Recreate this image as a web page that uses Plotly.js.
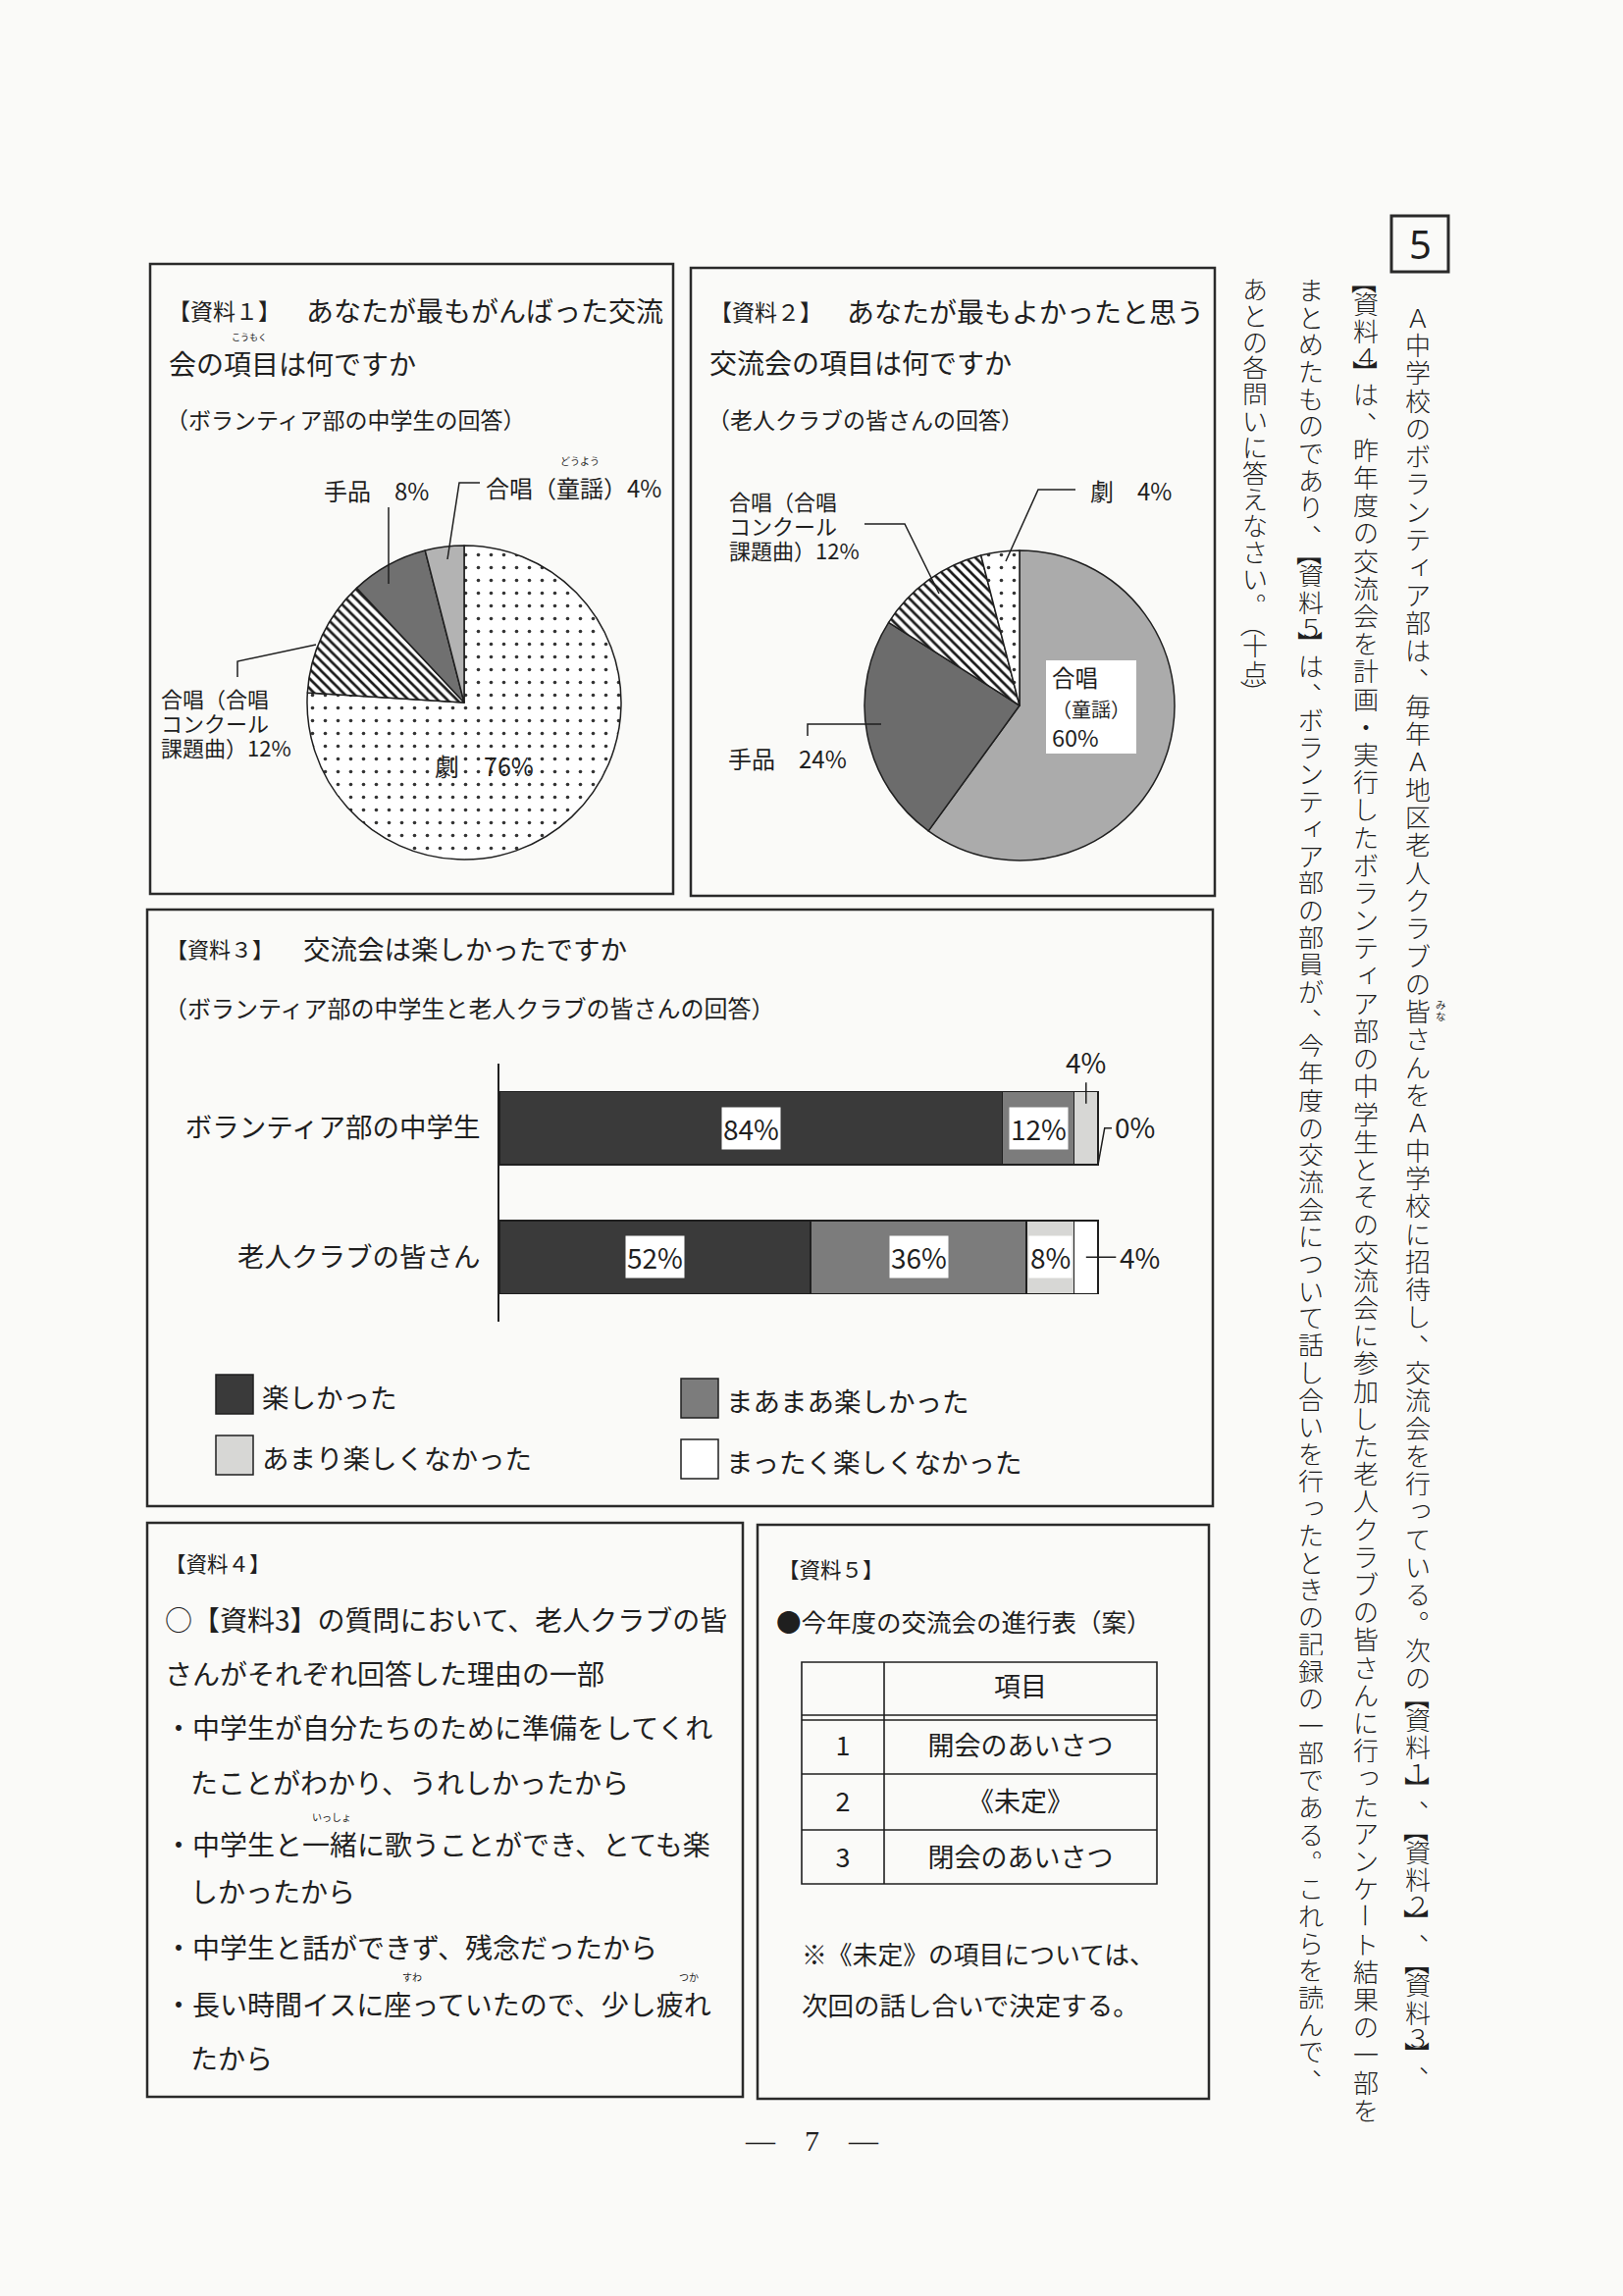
<!DOCTYPE html>
<html><head><meta charset="utf-8">
<script src="https://cdn.plot.ly/plotly-3.0.1.min.js"></script>
<style>html,body{margin:0;padding:0;background:#fafaf8}</style>
</head><body><div id="chart" style="width:1654px;height:2340px"></div>
<script>
// ---------------- data ----------------
const pie1Labels = ['劇', '合唱（合唱コンクール課題曲）', '手品', '合唱（童謡）'];
const pie1Values = [76, 12, 8, 4];
const pie2Labels = ['合唱（童謡）', '手品', '合唱（合唱コンクール課題曲）', '劇'];
const pie2Values = [60, 24, 12, 4];
const barGroups = ['ボランティア部の中学生', '老人クラブの皆さん'];
const barSeries = ['楽しかった', 'まあまあ楽しかった', 'あまり楽しくなかった', 'まったく楽しくなかった'];
const barValues = [[84, 52], [12, 36], [4, 8], [0, 4]];
const tableHeader = ['', '項目'];
const tableNumbers = ['1', '2', '3'];
const tableItems = ['開会のあいさつ', '《未定》', '閉会のあいさつ'];
const verticalCols = [
  'Ａ中学校のボランティア部は、毎年Ａ地区老人クラブの皆さんをＡ中学校に招待し、交流会を行っている。次の【資料１】、【資料２】、【資料３】、',
  '【資料４】は、昨年度の交流会を計画・実行したボランティア部の中学生とその交流会に参加した老人クラブの皆さんに行ったアンケート結果の一部を',
  'まとめたものであり、【資料５】は、ボランティア部の部員が、今年度の交流会について話し合いを行ったときの記録の一部である。これらを読んで、',
  'あとの各問いに答えなさい。（十点）'
];
const reasonLines = [
  '○【資料3】の質問において、老人クラブの皆',
  'さんがそれぞれ回答した理由の一部',
  '・中学生が自分たちのために準備をしてくれ',
  'たことがわかり、うれしかったから',
  '・中学生と一緒に歌うことができ、とても楽',
  'しかったから',
  '・中学生と話ができず、残念だったから',
  '・長い時間イスに座っていたので、少し疲れ',
  'たから'
];

// ---------------- helpers ----------------
const W = 1654, H = 2340;
const FONT = '"Noto Sans CJK JP", "Noto Sans", sans-serif';
const INK = '#1f1f1f';
const X = p => p / W, Y = p => 1 - p / H;
const ann = [], shapes = [];
function T(text, x, y, size, opts) {
  ann.push(Object.assign({xref: 'paper', yref: 'paper', x: X(x), y: Y(y), text: text, showarrow: false,
    xanchor: 'left', yanchor: 'middle', borderpad: 0, font: {family: FONT, size: size, color: INK}}, opts || {}));
}
function ML(lines, x, yCenter, spacing, size, opts) {
  const txt = lines.map(l => '<span style="font-size:' + size + 'px">' + l + '</span>').join('<br>');
  T(txt, x, yCenter, spacing / 1.3, Object.assign({align: 'left'}, opts || {}));
}
function box(x0, y0, x1, y1, w) {
  shapes.push({type: 'rect', xref: 'paper', yref: 'paper', x0: X(x0), x1: X(x1), y0: Y(y0), y1: Y(y1),
    line: {color: '#2a2a2a', width: w || 2.5}, fillcolor: 'rgba(0,0,0,0)', layer: 'below'});
}
function poly(pts, w) {
  let d = 'M' + pts.map(p => X(p[0]) + ',' + Y(p[1])).join(' L');
  shapes.push({type: 'path', xref: 'paper', yref: 'paper', path: d, line: {color: INK, width: w || 1.5}});
}

// ---------------- frames ----------------
box(153, 269, 686, 911);
box(704, 273, 1238, 913);
box(150, 927, 1236, 1535);
box(150, 1552, 757, 2137);
box(772, 1554, 1232, 2139);
box(1418, 220, 1476, 277, 3);
T('5', 1447, 249, 40, {xanchor: 'center', font: {family: '"Noto Sans", sans-serif', size: 40, color: INK}});
T('—　7　—', 827, 2181, 28, {xanchor: 'center', font: {family: '"Liberation Serif", serif', size: 30, color: INK}});

// ---------------- 資料1 ----------------
T('【資料１】', 170, 316, 23);
T('あなたが最もがんばった交流', 311, 316, 28);
T('会の項目は何ですか', 171, 370, 28);
T('こうもく', 254, 343, 9, {xanchor: 'center'});
T('（ボランティア部の中学生の回答）', 168, 427, 23);
T(pie1Labels[2] + '　' + pie1Values[2] + '%', 329, 499, 24);
T(pie1Labels[3] + pie1Values[3] + '%', 494, 496, 24);
T('どうよう', 591, 470, 10, {xanchor: 'center'});
ML([pie1Labels[1].slice(0, 5), pie1Labels[1].slice(5, 10), pie1Labels[1].slice(10) + pie1Values[1] + '%'], 163, 736, 25, 22);
T(pie1Labels[0] + '　' + pie1Values[0] + '%', 442, 780, 25);
poly([[396, 517], [396, 595]]);
poly([[489, 492], [468, 492], [456, 570]]);
poly([[242, 690], [242, 674], [322, 657]]);

// ---------------- 資料2 ----------------
T('【資料２】', 722, 317, 23);
T('あなたが最もよかったと思う', 862, 317, 28);
T('交流会の項目は何ですか', 722, 369, 28);
T('（老人クラブの皆さんの回答）', 720, 427, 23);
T(pie2Labels[3] + '　' + pie2Values[3] + '%', 1110, 499, 24);
ML([pie2Labels[2].slice(0, 5), pie2Labels[2].slice(5, 10), pie2Labels[2].slice(10) + pie2Values[2] + '%'], 742, 535, 25, 22);
T(pie2Labels[1] + '　' + pie2Values[1] + '%', 741, 773, 24);
poly([[1096, 499], [1058, 499], [1025, 572]]);
poly([[881, 534], [922, 534], [957, 605]]);
poly([[823, 750], [823, 738], [898, 738]]);

// ---------------- 資料3 ----------------
T('【資料３】', 168, 966, 22);
T('交流会は楽しかったですか', 308, 966, 27.5);
T('（ボランティア部の中学生と老人クラブの皆さんの回答）', 166, 1026, 24);
const barColors = ['#3a3a3a', '#7c7c7c', '#d7d7d5', '#ffffff'];
const legendPos = [[220, 1401, 266], [694, 1405, 739], [220, 1463, 266], [694, 1467, 739]];
barSeries.forEach((s, i) => {
  const p = legendPos[i];
  shapes.push({type: 'rect', xref: 'paper', yref: 'paper', x0: X(p[0]), x1: X(p[0] + 38), y0: Y(p[1]), y1: Y(p[1] + 40),
    fillcolor: barColors[i], line: {color: INK, width: 1.5}});
  T(s, p[2], p[1] + 22, 27.5);
});
barGroups.forEach((g, gi) => {
  let cum = 0;
  barValues.forEach((vals, si) => {
    const v = vals[gi];
    const mid = cum + v / 2;
    if (v >= 8) {
      ann.push({xref: 'x', yref: 'y', x: mid, y: g, text: v + '%', showarrow: false, bgcolor: '#ffffff', borderpad: 1,
        xanchor: 'center', yanchor: 'middle', font: {family: FONT, size: 28, color: INK}});
    } else if (si === 2) {
      ann.push({xref: 'x', yref: 'y', x: mid, y: g, text: v + '%', showarrow: true, arrowhead: 0, arrowwidth: 1.5,
        arrowcolor: INK, ax: 0, ay: -68, standoff: 25, font: {family: FONT, size: 28, color: INK}});
    } else if (v === 0) {
      shapes.push({type: 'path', xref: 'x', yref: 'y', path: 'M' + cum + ',' + (gi + 0.285) + ' L' + (cum + 1.1) + ',' + gi + ' L' + (cum + 2.3) + ',' + gi,
        line: {color: INK, width: 1.5}});
      ann.push({xref: 'x', yref: 'y', x: cum + 2.4, y: g, text: v + '%', showarrow: false, xanchor: 'left', yanchor: 'middle',
        yshift: 2, font: {family: FONT, size: 28, color: INK}});
    } else {
      shapes.push({type: 'line', xref: 'x', yref: 'y', x0: mid, x1: mid + 5, y0: gi, y1: gi, line: {color: INK, width: 1.5}});
      ann.push({xref: 'x', yref: 'y', x: mid + 5.2, y: g, text: v + '%', showarrow: false, xanchor: 'left', yanchor: 'middle',
        font: {family: FONT, size: 28, color: INK}});
    }
    cum += v;
  });
});

// ---------------- 資料4 ----------------
T('【資料４】', 167, 1592, 21.5);
const reasonPos = [[167, 1650], [167, 1705], [167, 1760], [193, 1816], [167, 1879], [193, 1927], [167, 1984], [167, 2042], [193, 2097]];
reasonLines.forEach((t, i) => T(t, reasonPos[i][0], reasonPos[i][1], 28));
T('いっしょ', 338, 1851, 10, {xanchor: 'center'});
T('すわ', 420, 2014, 10, {xanchor: 'center'});
T('つか', 702, 2014, 10, {xanchor: 'center'});

// ---------------- 資料5 ----------------
T('【資料５】', 792, 1598, 21.5);
T('●今年度の交流会の進行表（案）', 790, 1651, 25.5);
T('※《未定》の項目については、', 816, 1990, 25.8);
T('次回の話し合いで決定する。', 816, 2042, 26.5);
const tg = {x0: 817, x1: 1179, xc: 901, y0: 1694, yh: 1748, rows: [1808, 1865], y1: 1920};
shapes.push({type: 'rect', xref: 'paper', yref: 'paper', x0: X(tg.x0), x1: X(tg.x1), y0: Y(tg.y0), y1: Y(tg.y1), line: {color: INK, width: 1.6}});
shapes.push({type: 'line', xref: 'paper', yref: 'paper', x0: X(tg.xc), x1: X(tg.xc), y0: Y(tg.y0), y1: Y(tg.y1), line: {color: INK, width: 1.6}});
[tg.yh, tg.yh + 5].concat(tg.rows).forEach(yy => shapes.push({type: 'line', xref: 'paper', yref: 'paper',
  x0: X(tg.x0), x1: X(tg.x1), y0: Y(yy), y1: Y(yy), line: {color: INK, width: 1.4}}));

// ---------------- vertical text (one character per cell) ----------------
const colX = [1445, 1392, 1336, 1279], colTop = [308, 280, 280, 280], colCell = [28.3, 28.2, 27.7, 26.8];
const VFS = 26;
const smallKana = 'ァィゥェォッャュョっゃゅょ';
verticalCols.forEach((txt, ci) => {
  const cell = colCell[ci];
  let y = colTop[ci];
  for (const ch of txt) {
    let h = cell, rot = 0, dx = 0, dy = 0;
    if ('【】'.includes(ch)) { h = 14; rot = 90; }
    else if ('（）'.includes(ch)) { h = cell * 0.6; rot = 90; }
    else if (/[０-９]/.test(ch)) { h = 22.4; }
    else if (ch === 'ー') { rot = 90; }
    else if ('、。'.includes(ch)) { dx = VFS * 0.55; dy = VFS * 0.55; }
    else if (smallKana.includes(ch)) { dx = VFS * 0.12; dy = VFS * 0.12; }
    const a = {xref: 'paper', yref: 'paper', x: X(colX[ci]), y: Y(y + h / 2), text: ch, textangle: rot, showarrow: false,
      xshift: dx, yshift: dy, xanchor: 'center', yanchor: 'middle', borderpad: 0, valign: 'middle',
      font: {family: FONT, size: VFS, color: INK, weight: 300}};
    if (rot === 0) { a.height = Math.max(22, Math.floor(h) - 1); a.width = 28; }
    ann.push(a);
    if (ci === 0 && ch === '皆') {
      ML(['み', 'な'], colX[ci] + 17, y + h / 2, 12, 10.5);
    }
    y += h;
  }
});

// ---------------- traces ----------------
const traces = [];
traces.push({type: 'pie', labels: pie1Labels, values: pie1Values, sort: false, direction: 'clockwise', rotation: 0,
  textinfo: 'none', hoverinfo: 'none', domain: {x: [X(313), X(633)], y: [Y(876), Y(556)]},
  marker: {colors: ['#ffffff', '#ffffff', '#707070', '#b3b3b3'], line: {color: INK, width: 1.5},
    pattern: {shape: ['.', '\\', '', ''], fgcolor: ['#333333', '#1a1a1a', '#707070', '#b3b3b3'],
      bgcolor: ['#ffffff', '#ffffff', '#707070', '#b3b3b3'], size: [13, 7, 8, 8], solidity: [0.06, 0.38, 0.3, 0.3]}}});
traces.push({type: 'pie', labels: pie2Labels, values: pie2Values, sort: false, direction: 'clockwise', rotation: 0,
  textinfo: 'none', hoverinfo: 'none', domain: {x: [X(881), X(1197)], y: [Y(877), Y(561)]},
  marker: {colors: ['#ababab', '#6c6c6c', '#ffffff', '#ffffff'], line: {color: INK, width: 1.5},
    pattern: {shape: ['', '', '\\', '.'], fgcolor: ['#ababab', '#6c6c6c', '#1a1a1a', '#333333'],
      bgcolor: ['#ababab', '#6c6c6c', '#ffffff', '#ffffff'], size: [8, 8, 7, 13], solidity: [0.3, 0.3, 0.38, 0.06]}}});
barSeries.forEach((s, si) => {
  traces.push({type: 'bar', orientation: 'h', name: s, y: barGroups, x: barValues[si], width: 0.57,
    marker: {color: barColors[si], line: {color: INK, width: 1.5}}, hoverinfo: 'none', xaxis: 'x', yaxis: 'y'});
});
traces.push({type: 'table', domain: {x: [X(817), X(1179)], y: [Y(1932), Y(1701)]}, columnwidth: [84, 278],
  header: {values: tableHeader, height: 60, align: 'center', line: {color: 'rgba(0,0,0,0)', width: 0}, fill: {color: 'rgba(0,0,0,0)'},
    font: {family: FONT, size: 27, color: INK}},
  cells: {values: [tableNumbers, tableItems], height: 57, align: 'center', line: {color: 'rgba(0,0,0,0)', width: 0}, fill: {color: 'rgba(0,0,0,0)'},
    font: {family: FONT, size: 27, color: INK}}});

shapes.push({type: 'rect', xref: 'paper', yref: 'paper', x0: X(1066), x1: X(1158), y0: Y(673), y1: Y(768),
  fillcolor: '#ffffff', line: {width: 0}, layer: 'above'});
ann.push({xref: 'paper', yref: 'paper', x: X(1071), y: Y(720), xanchor: 'left', yanchor: 'middle', align: 'left', showarrow: false, borderpad: 0,
  text: pie2Labels[0].slice(0, 2) + '<br><span style="font-size:20px">' + pie2Labels[0].slice(2) + '</span><br>' + pie2Values[0] + '%',
  font: {family: FONT, size: 23.5, color: INK}});

const layout = {
  width: W, height: H, margin: {l: 0, r: 0, t: 0, b: 0},
  paper_bgcolor: '#fafaf8', plot_bgcolor: 'rgba(0,0,0,0)', showlegend: false, barmode: 'stack',
  font: {family: FONT, color: INK},
  xaxis: {domain: [X(509), X(509 + 6.1 * 112)], range: [0, 112], visible: false, fixedrange: true},
  yaxis: {domain: [Y(1347), Y(1084)], type: 'category', categoryorder: 'array', categoryarray: barGroups,
    range: [1.5, -0.5], showline: true, linecolor: INK, linewidth: 2, ticks: '', showgrid: false, zeroline: false,
    tickfont: {family: FONT, size: 27.5, color: INK}, ticklabelstandoff: 12, fixedrange: true},
  shapes: shapes, annotations: ann
};
Plotly.newPlot('chart', traces, layout, {staticPlot: true, displayModeBar: false});
</script></body></html>
